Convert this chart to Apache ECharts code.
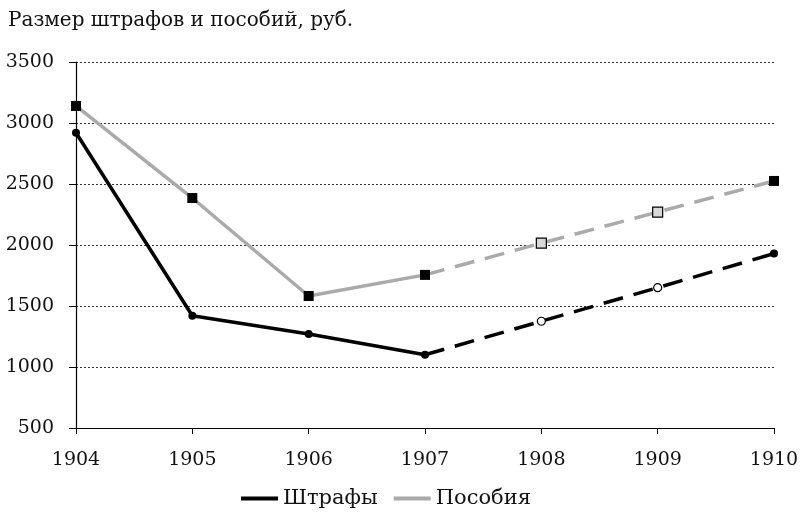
<!DOCTYPE html>
<html>
<head>
<meta charset="utf-8">
<script src="https://cdn.jsdelivr.net/npm/echarts@6/dist/echarts.min.js"></script>
<style>
  html, body { margin: 0; padding: 0; background: #fff; }
  #chart { width: 805px; height: 520px; }
</style>
</head>
<body>
<div id="chart"></div>
<script>
const years = ["1904", "1905", "1906", "1907", "1908", "1909", "1910"];
const fines = [2920, 1420, 1270, 1100, 1375, 1650, 1930];
const benefits = [3140, 2385, 1582, 1755, 2015, 2270, 2525];
// 1908 and 1909 are estimated points (open markers)
const estimated = [false, false, false, false, true, true, false];
const lastActual = 3; // solid line up to 1907, dashed after

const font = "DejaVu Serif";

const part = (values, solid, marker) =>
  values.map((v, i) => {
    const inPart = solid ? i <= lastActual : i >= lastActual;
    if (!inPart) return null;
    const showMarker = solid ? true : i > lastActual;
    return {
      value: v,
      symbol: showMarker ? marker.symbol : "none",
      symbolSize: estimated[i] ? marker.openSize : marker.size,
      itemStyle: estimated[i]
        ? { color: marker.openFill, borderColor: "#000", borderWidth: 1.2 }
        : { color: "#000", borderWidth: 0 },
    };
  });

const circle = { symbol: "circle", size: 8, openSize: 8, openFill: "#fff" };
const square = { symbol: "rect", size: 10, openSize: 10, openFill: "#d8d8d8" };

const chart = echarts.init(document.getElementById("chart"));
chart.setOption({
  animation: false,
  title: {
    text: "Размер штрафов и пособий, руб.",
    left: 3,
    top: 6,
    textStyle: { fontFamily: font, fontSize: 20, fontWeight: "normal", color: "#111" },
  },
  grid: { left: 76, right: 31, top: 62, bottom: 92 },
  legend: {
    bottom: 6,
    left: 236,
    itemWidth: 37,
    itemHeight: 4,
    itemGap: 16,
    data: ["Штрафы", "Пособия"],
    textStyle: { fontFamily: font, fontSize: 21, color: "#111" },
    icon: "rect",
  },
  xAxis: {
    type: "category",
    boundaryGap: false,
    data: years,
    axisLine: { lineStyle: { color: "#000", width: 1.2 } },
    axisTick: { length: 6, lineStyle: { color: "#000" } },
    axisLabel: { fontFamily: font, fontSize: 19, color: "#111", margin: 23 },
  },
  yAxis: {
    type: "value",
    min: 500,
    max: 3500,
    interval: 500,
    axisLine: { show: true, lineStyle: { color: "#000", width: 1.2 } },
    axisTick: { show: true, length: 7, lineStyle: { color: "#000" } },
    axisLabel: {
      fontFamily: font, fontSize: 19, color: "#111", margin: 22,
      formatter: (v) => String(v),
    },
    splitLine: { lineStyle: { type: [2, 2], color: "#333", width: 1 } },
  },
  series: [
    {
      name: "Пособия",
      type: "line",
      data: part(benefits, true, square),
      lineStyle: { color: "#aaa", width: 3.5 },
      itemStyle: { color: "#aaa" },
      z: 2,
    },
    {
      name: "Пособия-прогноз",
      type: "line",
      data: part(benefits, false, square),
      lineStyle: { color: "#aaa", width: 3.5, type: [20, 11] },
      z: 2,
    },
    {
      name: "Штрафы",
      type: "line",
      data: part(fines, true, circle),
      lineStyle: { color: "#000", width: 3.5 },
      itemStyle: { color: "#000" },
      z: 3,
    },
    {
      name: "Штрафы-прогноз",
      type: "line",
      data: part(fines, false, circle),
      lineStyle: { color: "#000", width: 3.5, type: [20, 11] },
      z: 3,
    },
  ],
});
</script>
</body>
</html>
